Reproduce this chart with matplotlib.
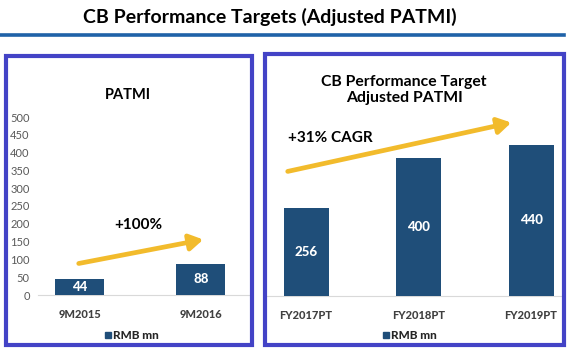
import matplotlib
matplotlib.use("Agg")
import matplotlib.pyplot as plt
from matplotlib.patches import Rectangle, FancyArrowPatch
from matplotlib.lines import Line2D

plt.rcParams['font.family'] = ['Lato', 'DejaVu Sans']

# Data
left_categories = ["9M2015", "9M2016"]
left_values = [44, 88]
left_yticks = [0, 50, 100, 150, 200, 250, 300, 350, 400, 450, 500]
right_categories = ["FY2017PT", "FY2018PT", "FY2019PT"]
right_values = [256, 400, 440]
series_name = "RMB mn"

W, H = 570, 355
BAR = "#1f4e79"
BOX = "#4343c6"
ARROW = "#f2bb2c"
GREY = "#595959"
CAT = "#404040"
HEAVY = 900

fig = plt.figure(figsize=(W / 100, H / 100), dpi=100)
fig.patch.set_facecolor("white")

def fx(x):
    return x / W

def fy(y):
    return 1 - y / H

# Main title and rule
fig.text(fx(270), fy(17), "CB Performance Targets (Adjusted PATMI)", ha="center", va="center",
         fontsize=14, fontweight="bold", color="black")
fig.add_artist(Line2D([fx(0), fx(564)], [fy(35), fy(35)], color="#1f62a8", lw=2.6))

# Panel boxes
fig.add_artist(Rectangle((fx(6), fy(345)), fx(252) - fx(6), fy(56) - fy(345), fill=False,
                         edgecolor=BOX, lw=3.0))
fig.add_artist(Rectangle((fx(265), fy(345)), fx(564) - fx(265), fy(54) - fy(345), fill=False,
                         edgecolor=BOX, lw=3.0))

# ---- Left chart ----
axL = fig.add_axes([fx(38), fy(295), fx(250) - fx(38), fy(117) - fy(295)])
xl = list(range(len(left_categories)))
barsL = axL.bar(xl, left_values, width=0.405, color=BAR, zorder=3)
axL.set_ylim(0, 500)
axL.set_xlim(-0.347, 1.405)
axL.set_yticks(left_yticks)
axL.set_yticklabels([str(t) for t in left_yticks], fontsize=8, color=GREY)
axL.set_xticks(xl)
axL.set_xticklabels(left_categories, fontsize=8, color=CAT, fontweight=HEAVY)
axL.tick_params(axis="y", length=0, pad=6)
axL.tick_params(axis="x", length=0, pad=10)
for s in ["top", "right", "left"]:
    axL.spines[s].set_visible(False)
axL.spines["bottom"].set_color("#d9d9d9")
axL.spines["bottom"].set_linewidth(0.8)
for b, v in zip(barsL, left_values):
    axL.text(b.get_x() + b.get_width() / 2, v / 2, str(v), ha="center", va="center",
             color="white", fontsize=9.5, fontweight=HEAVY, zorder=4)
axL.set_facecolor("none")

fig.text(fx(128), fy(95), "PATMI", ha="center", va="center", fontsize=10.5, fontweight="bold")
fig.text(fx(138), fy(225), "+100%", ha="center", va="center", fontsize=11, fontweight="bold")
fig.add_artist(FancyArrowPatch((fx(76), fy(264)), (fx(206), fy(239)), transform=fig.transFigure,
                               arrowstyle="-|>,head_length=5,head_width=3", mutation_scale=1.6,
                               color=ARROW, lw=3.4))
# legend
fig.add_artist(Rectangle((fx(105), fy(338)), fx(111) - fx(105), fy(332) - fy(338), color=BAR))
fig.text(fx(113), fy(335.5), series_name, ha="left", va="center", fontsize=8.5, fontweight=HEAVY,
         color="#262626")

# ---- Right chart ----
axR = fig.add_axes([fx(265), fy(296), fx(564) - fx(265), fy(120) - fy(296)])
xr = list(range(len(right_categories)))
barsR = axR.bar(xr, right_values, width=0.4, color=BAR, zorder=3)
axR.set_ylim(0, 176 / 0.344)
axR.set_xlim(-41 / 112.5, (299 - 41) / 112.5)
axR.set_yticks([])
axR.set_xticks(xr)
axR.set_xticklabels(right_categories, fontsize=8, color=CAT, fontweight=HEAVY)
axR.tick_params(axis="x", length=0, pad=10)
for s in ["top", "right", "left"]:
    axR.spines[s].set_visible(False)
axR.spines["bottom"].set_color("#d9d9d9")
axR.spines["bottom"].set_linewidth(0.8)
for b, v in zip(barsR, right_values):
    axR.text(b.get_x() + b.get_width() / 2, v / 2, str(v), ha="center", va="center",
             color="white", fontsize=9.5, fontweight=HEAVY, zorder=4)
axR.set_facecolor("none")

fig.text(fx(404), fy(90), "CB Performance Target\nAdjusted PATMI", ha="center", va="center",
         fontsize=11.3, fontweight="bold", linespacing=1.25)
fig.text(fx(330), fy(138), "+31% CAGR", ha="center", va="center", fontsize=11, fontweight="bold")
fig.add_artist(FancyArrowPatch((fx(285), fy(172)), (fx(514), fy(122)), transform=fig.transFigure,
                               arrowstyle="-|>,head_length=5,head_width=3", mutation_scale=1.6,
                               color=ARROW, lw=3.4))
fig.add_artist(Rectangle((fx(383), fy(338)), fx(389) - fx(383), fy(332) - fy(338), color=BAR))
fig.text(fx(391), fy(335.5), series_name, ha="left", va="center", fontsize=8.5, fontweight=HEAVY,
         color="#262626")

fig.savefig("out.png", dpi=100, facecolor="white")
